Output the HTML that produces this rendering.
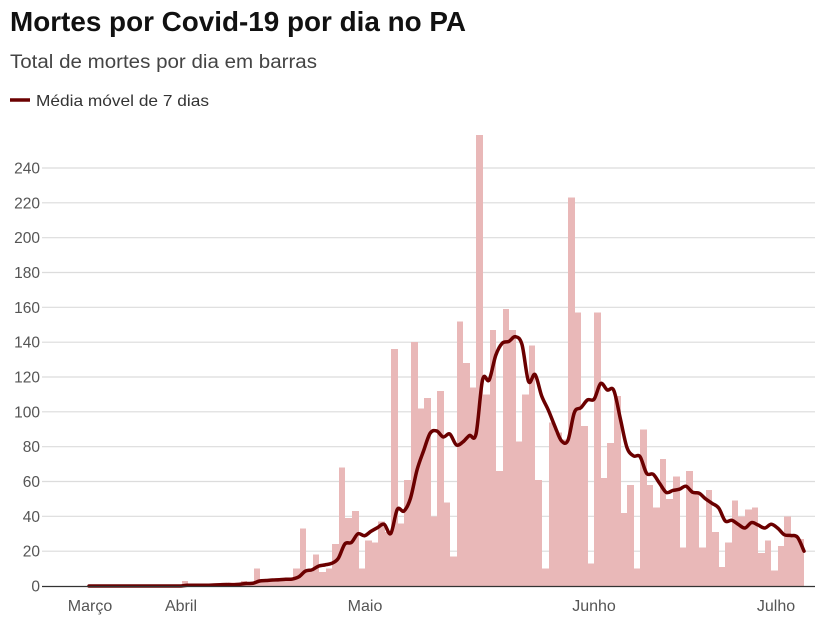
<!DOCTYPE html>
<html><head><meta charset="utf-8"><style>
html,body{margin:0;padding:0;background:#fff;width:823px;height:634px;overflow:hidden}
svg{display:block;font-family:"Liberation Sans",sans-serif}
</style></head><body>
<svg id="c" width="823" height="634" xmlns="http://www.w3.org/2000/svg">
<text x="10" y="31" font-size="28" font-weight="bold" fill="#111" textLength="456" lengthAdjust="spacingAndGlyphs">Mortes por Covid-19 por dia no PA</text>
<text x="10" y="68" font-size="19" fill="#444" textLength="307" lengthAdjust="spacingAndGlyphs">Total de mortes por dia em barras</text>
<line x1="10" y1="100" x2="30" y2="100" stroke="#6b0000" stroke-width="3.5"/>
<text x="36" y="106" font-size="16" fill="#333" textLength="173" lengthAdjust="spacingAndGlyphs">Média móvel de 7 dias</text>
<g id="grid"></g>
<g id="bars" shape-rendering="crispEdges"></g>
<path id="ma" fill="none" stroke="#6b0000" stroke-width="3.5" stroke-linejoin="round" stroke-linecap="round"/>
<line x1="42" y1="586.5" x2="815" y2="586.5" stroke="#333" stroke-width="1.3"/>
<g font-size="16" fill="#555" text-anchor="middle">
<text x="90" y="611">Março</text>
<text x="181" y="611">Abril</text>
<text x="365" y="611">Maio</text>
<text x="594" y="611">Junho</text>
<text x="776" y="611">Julho</text>
</g>
</svg>
<script>
var d=[0,0,0,0,0,0,0,0,0,0,0,0,0,0,0,3,0,0,0,1,1,1,2,2,3,1,10,3,3,3,4,4,10,33,8,18,8,10,24,68,39,43,10,26,25,37,31,136,36,61,140,102,108,40,112,48,17,152,128,114,259,110,147,66,159,147,83,110,138,61,10,94,88,84,223,157,92,13,157,62,82,109,42,58,10,90,58,45,73,50,63,22,66,54,22,55,31,11,25,49,40,44,45,19,26,9,23,40,29,27];
var ns="http://www.w3.org/2000/svg",k=418/240,B=586;
var g=document.getElementById('grid'),b=document.getElementById('bars');
for(var v=20;v<=240;v+=20){var y=B-v*k;var l=document.createElementNS(ns,'line');
l.setAttribute('x1',42);l.setAttribute('x2',815);l.setAttribute('y1',y);l.setAttribute('y2',y);
l.setAttribute('stroke','#dcdcdc');l.setAttribute('stroke-width','1.2');g.appendChild(l);}
for(var v=0;v<=240;v+=20){var t=document.createElementNS(ns,'text');t.setAttribute('x',40);t.setAttribute('y',B-v*k+5.5);
t.setAttribute('text-anchor','end');t.setAttribute('font-size','15.5');t.setAttribute('fill','#555');t.textContent=v;g.appendChild(t);}
for(var j=0;j<d.length;j++){if(!d[j])continue;var r=document.createElementNS(ns,'rect');var h=d[j]*k;
var x0=Math.round(83.45+6.55*j),x1=Math.round(83.45+6.55*(j+1));
r.setAttribute('x',x0);r.setAttribute('width',x1-x0);r.setAttribute('y',B-h);r.setAttribute('height',h);
r.setAttribute('fill','#e9b8b8');b.appendChild(r);}
var p=[];for(var j=0;j<d.length;j++){var s=0;for(var i=Math.max(0,j-6);i<=j;i++){s+=d[i];}p.push([89+6.56*j,B-(s/7)*k]);}
p[p.length-2][1]=B-28*k;p[p.length-1][1]=B-20*k;p[p.length-3][1]=B-29*k;
var D='M'+p[0][0]+','+p[0][1];
for(var i=0;i<p.length-1;i++){var p0=p[Math.max(0,i-1)],p1=p[i],p2=p[i+1],p3=p[Math.min(p.length-1,i+2)];
var c1x=p1[0]+(p2[0]-p0[0])/6,c1y=p1[1]+(p2[1]-p0[1])/6,c2x=p2[0]-(p3[0]-p1[0])/6,c2y=p2[1]-(p3[1]-p1[1])/6;
D+=' C'+c1x+','+c1y+' '+c2x+','+c2y+' '+p2[0]+','+p2[1];}
document.getElementById('ma').setAttribute('d',D);
</script>
</body></html>
